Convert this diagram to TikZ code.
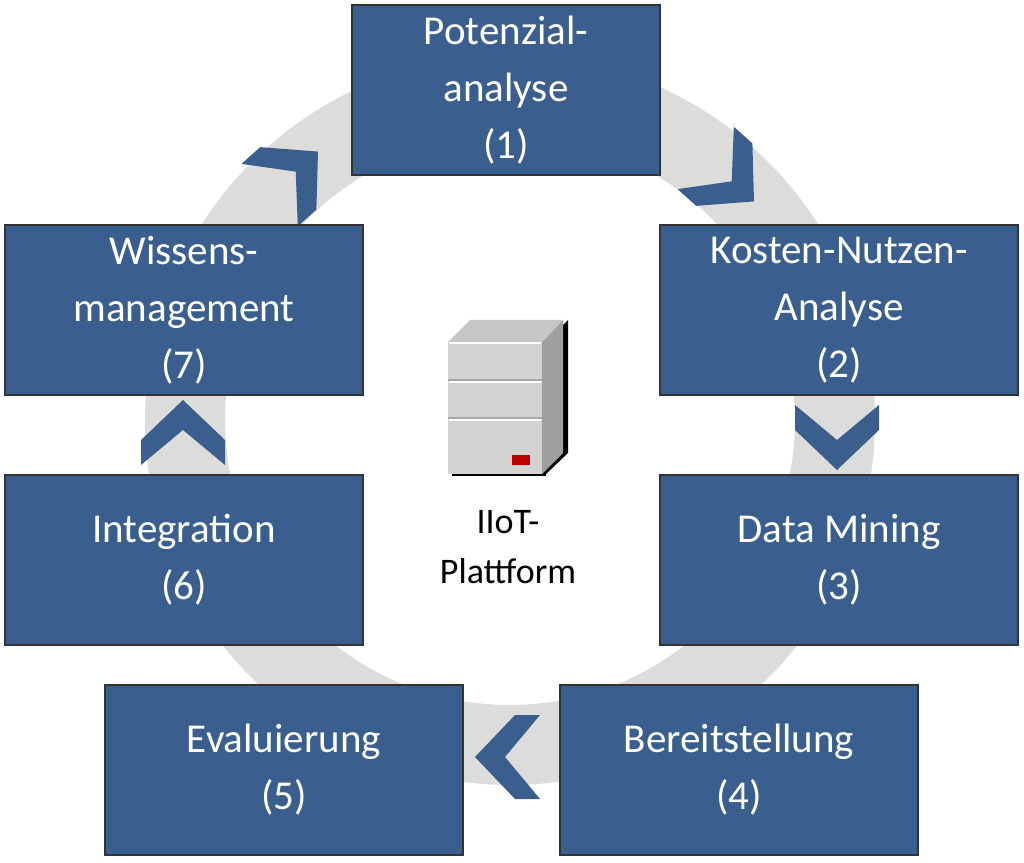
\documentclass[tikz,border=0pt]{standalone}
\usepackage{fontspec}
\setmainfont{Carlito}
\begin{document}
\begin{tikzpicture}[x=1pt,y=1pt,
  box/.style={draw=black!80,line width=1.2pt,fill=boxblue,text=white,minimum width=#1,minimum height=170pt,inner sep=0pt,align=center,font=\fontsize{41}{57}\selectfont},
  chev/.style={fill=boxblue}]
\definecolor{boxblue}{HTML}{3A5F8F}
\definecolor{ring}{HTML}{DCDCDA}
\useasboundingbox (0,0) rectangle (1024,862);
\draw[ring,line width=80pt] (510,442) circle (325);
% chevrons
\newcommand\mychev[3]{\fill[boxblue,shift={(#1,#2)},rotate=#3] (-30,-42)--(5,0)--(-30,42)--(-5,42)--(35,0)--(-5,-42)--cycle;}
\mychev{183}{427}{90}
\mychev{837}{427}{-90}
\mychev{510}{105}{180}
\mychev{728}{684}{-42}
\mychev{292}{687}{42}
% boxes
\node[box=308pt] (b1) at (506,772) {Potenzial-\\analyse\\(1)};
\node[box=358pt] (b2) at (839,552) {Kosten-Nutzen-\\Analyse\\(2)};
\node[box=358pt] (b3) at (839,302) {Data Mining\\(3)};
\node[box=358pt] (b4) at (739,92) {Bereitstellung\\(4)};
\node[box=358pt] (b5) at (284,92) {Evaluierung\\(5)};
\node[box=358pt] (b6) at (184,302) {Integration\\(6)};
\node[box=358pt] (b7) at (184,552) {Wissens-\\management\\(7)};
% server
\fill[black] (452,386) rectangle (546,392);
\fill[black] (546,388)--(568,409)--(568,542)--(546,520)--cycle;
\fill[gray!75] (542,388)--(563,409)--(563,542)--(542,520)--cycle;
\fill[gray!45] (448,520)--(470,542)--(563,542)--(542,520)--cycle;
\fill[gray!35] (448,388) rectangle (542,520);
\draw[white,line width=1.5pt] (449,519)--(541,519);
\draw[gray!70,line width=2pt] (448,482)--(542,482) (448,444)--(542,444);
\draw[white,line width=1.5pt] (449,480)--(541,480) (449,442)--(541,442);
\fill[red!75!black] (512,397) rectangle (530,407);
\node[font=\fontsize{36}{50}\selectfont,align=center] (srv) at (508,315) {IIoT-\\Plattform};
\end{tikzpicture}
\end{document}
